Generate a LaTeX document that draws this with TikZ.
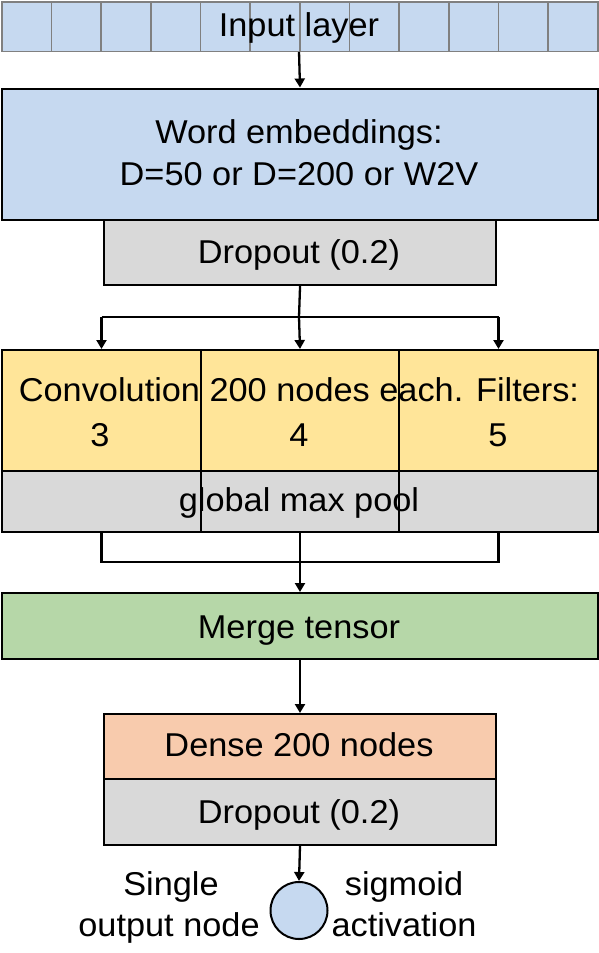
\documentclass[tikz,border=0pt]{standalone}
\usepackage{fontspec}
\setmainfont{Liberation Sans}[FakeStretch=1.04]
\usetikzlibrary{arrows.meta}
\definecolor{cblue}{RGB}{198,217,240}
\definecolor{cyellow}{RGB}{255,229,153}
\definecolor{cgrey}{RGB}{217,217,217}
\definecolor{cgreen}{RGB}{182,215,168}
\definecolor{corange}{RGB}{248,203,173}
\definecolor{cborder}{RGB}{128,128,128}
\tikzset{
  box/.style={draw=black, line width=2pt, inner sep=0pt, anchor=north west, align=center},
  cell/.style={draw=cborder, line width=1.5pt, fill=cblue, inner sep=0pt, anchor=north west, minimum width=49.67pt, minimum height=49.5pt},
  lbl/.style={inner sep=0pt, anchor=base, font=\fontsize{33}{40}\selectfont},
  arr/.style={line width=2.3pt, -{Triangle[length=9pt,width=10pt]}},
  ln/.style={line width=2.3pt},
}
\begin{document}
\begin{tikzpicture}[x=1pt,y=-1pt]
\useasboundingbox[fill=white] (0,0) rectangle (598,953);
% input layer cells
\foreach \i in {0,...,11} {
  \node[cell] (cell\i) at ({1+\i*49.67},1) {};
}
\node[lbl] (inlabel) at (299,36) {Input layer};
% word embeddings
\node[box, fill=cblue, minimum width=596pt, minimum height=131pt] (emb) at (1,87.5) {};
\node[lbl] (embtext1) at (299,143.5) {Word embeddings:};
\node[lbl] (embtext2) at (299,185) {D=50 or D=200 or W2V};
% dropout 1
\node[box, fill=cgrey, minimum width=391.5pt, minimum height=65.5pt] (drop1) at (103.3,218.5) {};
\node[lbl] (drop1text) at (299,263.5) {Dropout (0.2)};
% conv cells
\node[box, fill=cyellow, minimum width=199pt, minimum height=121pt] (c1) at (1,349) {};
\node[box, fill=cyellow, minimum width=198pt, minimum height=121pt] (c2) at (200,349) {};
\node[box, fill=cyellow, minimum width=199pt, minimum height=121pt] (c3) at (398,349) {};
% pool cells
\node[box, fill=cgrey, minimum width=199pt, minimum height=61pt] (p1) at (1,470) {};
\node[box, fill=cgrey, minimum width=198pt, minimum height=61pt] (p2) at (200,470) {};
\node[box, fill=cgrey, minimum width=199pt, minimum height=61pt] (p3) at (398,470) {};
\node[lbl] (convtext) at (299,401.5) {Convolution 200 nodes each. Filters:};
\node[lbl] (n3) at (100,446) {3};
\node[lbl] (n4) at (299,446) {4};
\node[lbl] (n5) at (498,446) {5};
\node[lbl] (pooltext) at (299,511.5) {global max pool};
% merge
\node[box, fill=cgreen, minimum width=596pt, minimum height=66pt] (merge) at (1,592) {};
\node[lbl] (mergetext) at (299,638.3) {Merge tensor};
% dense
\node[box, fill=corange, minimum width=392pt, minimum height=65pt] (dense) at (103,713) {};
\node[lbl] (densetext) at (299,756.7) {Dense 200 nodes};
\node[box, fill=cgrey, minimum width=392pt, minimum height=66pt] (drop2) at (103,778) {};
\node[lbl] (drop2text) at (299,823.3) {Dropout (0.2)};
% output
\node[circle, draw=black, line width=2pt, fill=cblue, minimum size=57pt, inner sep=0pt] (out) at (299,910.5) {};
\node[lbl] (lefttext1) at (171,895) {Single};
\node[lbl] (lefttext2) at (169,936.7) {output node};
\node[lbl] (righttext1) at (404,895) {sigmoid};
\node[lbl] (righttext2) at (404,936.7) {activation};
% connectors
\coordinate (split) at (299,317);
\coordinate (join) at (299,562);
\draw[arr] (cell6.south west) -- (emb.north);
\draw[ln] (drop1.south) -- (split);
\draw[ln] (c1.north |- split) -- (c3.north |- split);
\draw[arr] (c1.north |- split) -- (c1.north);
\draw[arr] (split) -- (c2.north);
\draw[arr] (c3.north |- split) -- (c3.north);
\draw[ln] (p1.south) -- (p1.south |- join) -- (p3.south |- join) -- (p3.south);
\draw[arr] (p2.south) -- (merge.north);
\draw[arr] (merge.south) -- (dense.north);
\draw[arr] (drop2.south) -- (out.north);
\end{tikzpicture}
\end{document}
